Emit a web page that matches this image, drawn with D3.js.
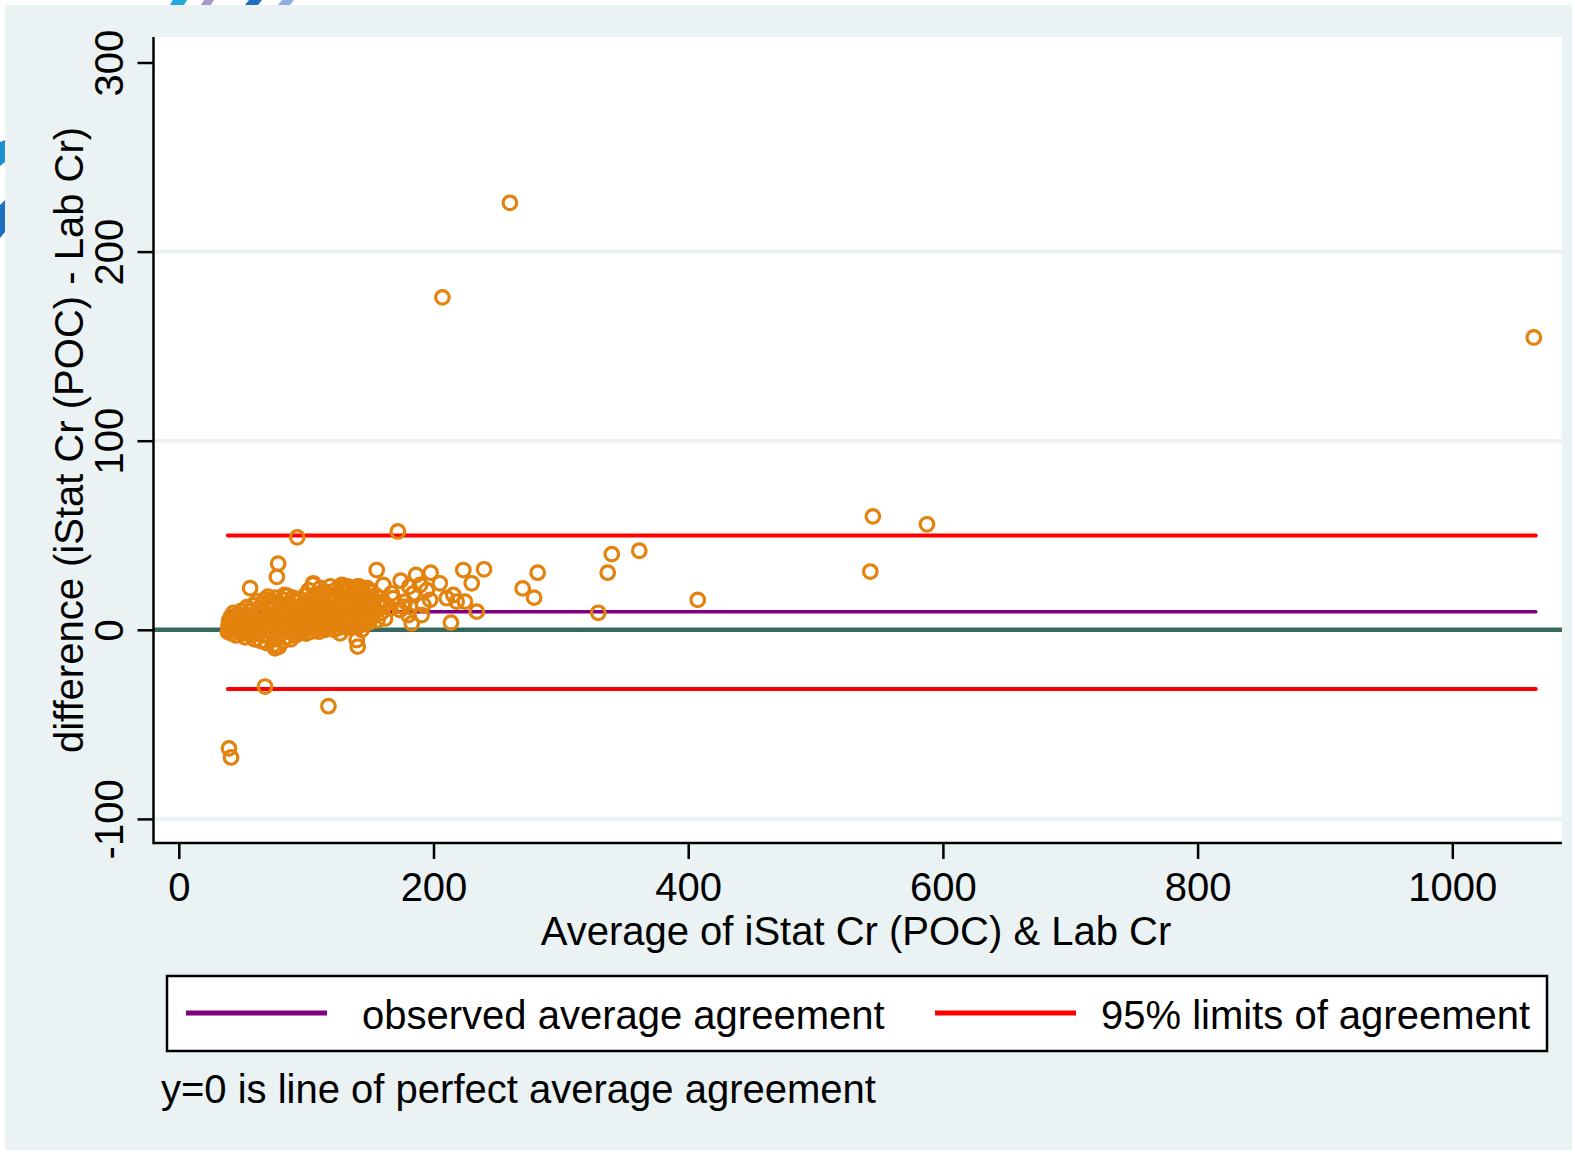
<!DOCTYPE html>
<html>
<head>
<meta charset="utf-8">
<script src="https://cdn.jsdelivr.net/npm/d3@7"></script>
<style>
  body { margin: 0; background: #fff; }
  text { font-family: "Liberation Sans", Arial, Helvetica, sans-serif; fill: #000; }
</style>
</head>
<body>
<svg id="chart" width="1575" height="1154"></svg>
<script>
// Bland-Altman: average of iStat Cr (POC) & Lab Cr vs difference
// [average, difference]
const points = [
  // dense cluster
  [38.5,-1],[39,2],[39.5,5],[40,0],[40.5,3],[41,7],[41.5,-2],[42,1],[42.5,4],[43,9],[43.5,0],[44,2],[44.5,6],[45,-3],
  [45.5,1],[46,3],[46.5,8],[47,-1],[47.5,5],[48,2],[48.5,0],[49,10],[49.5,4],[50,-2],[50.5,6],[51,1],[51.5,3],[52,-4],
  [52.5,8],[53,0],[53.5,12],[54,5],[54.5,2],[55,-1],[55.5,7],[56,3],[56.5,10],[57,-3],[57.5,1],[58,6],[58.5,13],[59,4],
  [59.5,-5],[60,2],[60.5,9],[61,0],[61.5,15],[62,5],[62.5,-2],[63,11],[63.5,3],[64,7],[64.5,-6],[65,1],[65.5,14],[66,4],
  [66.5,-3],[67,9],[67.5,16],[68,2],[68.5,6],[69,-7],[69.5,12],[70,0],[70.5,4],[71,15],[71.5,-4],[72,8],[72.5,2],[73,11],
  [73.5,-1],[74,6],[74.5,-8],[75,13],[75.5,3],[76,17],[76.5,-5],[77,9],[77.5,1],[78,5],[78.5,-9],[79,14],[79.5,7],[80,-2],
  [80.5,11],[81,3],[81.5,16],[82,-6],[82.5,8],[83,0],[83.5,12],[84,5],[84.5,-4],[85,18],[85.5,9],[86,2],[86.5,-1],[87,14],
  [87.5,6],[88,-5],[88.5,10],[89,3],[89.5,17],[90,0],[90.5,7],[91,12],[91.5,-3],[92,4],[92.5,15],[93,9],[93.5,1],[94,-2],
  [94.5,11],[95,6],[95.5,16],[96,3],[96.5,-1],[97,8],[97.5,13],[98,0],[98.5,5],[99,18],[99.5,10],[100,-2],[100.5,3],
  [101,14],[101.5,7],[102,21],[102.5,1],[103,11],[103.5,-1],[104,5],[104.5,17],[105,9],[105.5,24],[106,2],[106.5,13],
  [107,6],[107.5,0],[108,19],[108.5,10],[109,3],[109.5,15],[110,-1],[110.5,7],[111,22],[111.5,12],[112,4],[112.5,1],
  [113,17],[113.5,9],[114,5],[114.5,14],[115,0],[115.5,20],[116,8],[116.5,3],[117,12],[117.5,16],[118,1],[118.5,6],
  [119,23],[119.5,10],[120,2],[120.5,14],[121,18],[121.5,5],[122,0],[122.5,9],[123,21],[123.5,12],[124,3],[124.5,16],
  [125,7],[125.5,1],[126,19],[126.5,11],[127,4],[127.5,22],[128,14],[128.5,8],[129,2],[129.5,17],[130,10],[130.5,5],
  [131,20],[131.5,13],[132,1],[132.5,23],[133,8],[133.5,16],[134,4],[134.5,11],[135,19],[135.5,6],[136,14],[136.5,2],
  [137,22],[137.5,9],[138,17],[138.5,4],[139,12],[139.5,20],[140,7],[140.5,15],[141,2],[141.5,23],[142,10],[142.5,18],
  [143,5],[143.5,13],[144,21],[144.5,8],[145,16],[145.5,3],[146,11],[146.5,19],[147,6],[147.5,14],[148,22],[148.5,9],
  [149,17],[149.5,4],[150,12],[151,20],[152,7],[153,15],[154,10],[155,18],[156,5],[157,13],[159,9],[161,12],[162,6],
  // looser area
  [56,22],[70,17.5],[78,35],[77,28],[83,18.4],[93,48.9],[105.6,24.6],[128,23.7],[140,22.8],[126.6,-1.9],
  [139.7,-5.4],[140.5,-8.9],[143.6,0],[145,14],[150,21],[155.4,31.6],[158,14],[160.6,23.7],[160.6,14.9],
  [165.8,11.4],[167.2,19.3],[168.4,16.7],[172,52],[173.7,10.5],[174.2,26],[176.3,12.2],[177.6,14.9],[180.2,7.8],
  [181,22.8],[181.5,12.2],[182.9,3.4],[184.2,19.3],[186.3,29],[189.4,23.7],[190.7,7.8],[192,13.1],[194.7,21],
  [197.3,15.8],[197.8,30.2],[205,24.6],[210.4,16.7],[213.7,3.8],[215.6,18.4],[218.2,14.9],[223.4,31.6],
  [224.7,14.9],[230,24.6],[234,9.6],[239.7,32],
  // spread out
  [207,175.8],[260,225.8],[270,21.9],[279,17],[281.8,30.2],[329.4,9],[336.8,30.2],[340,40],[361.6,41.8],
  [407.5,15.8],[543,30.8],[545,60],[587.5,55.8],[1064,154.6],
  // below
  [67.7,-30],[75.5,-9.8],[117.5,-40.4],[39.4,-62.7],[41,-67.5]
];
const meanDiff = 9.6;
const limits = [49.9, -31.3];
const xTicks = [0, 200, 400, 600, 800, 1000];
const yTicks = [-100, 0, 100, 200, 300];
const yGrid = [-100, 100, 200];
const legendLabels = ["observed average agreement", "95% limits of agreement"];
const xTitle = "Average of iStat Cr (POC) & Lab Cr";
const yTitle = "difference (iStat Cr (POC) - Lab Cr)";
const note = "y=0 is line of perfect average agreement";

const svg = d3.select("#chart");
const plot = { left: 153.5, right: 1562, top: 37, bottom: 843 };

const x = d3.scaleLinear().domain([0, 1000]).range([178.8, 1452.3]);
const y = d3.scaleLinear().domain([0, 300]).range([629.8, 62.5]);

// backgrounds
svg.append("rect").attr("x", 5).attr("y", 5).attr("width", 1567).attr("height", 1145).attr("fill", "#eaf2f3");
svg.append("rect").attr("x", plot.left).attr("y", plot.top)
  .attr("width", plot.right - plot.left).attr("height", plot.bottom - plot.top).attr("fill", "#fff");

// leftover bits of the slide this was cut from
const bits = [
  ["#23a9dc", "173,0 187,0 184,5 170,5"], ["#a99bc9", "204,0 214,0 211,5 201,5"],
  ["#1f6fbf", "249,0 262,0 258,5 245,5"], ["#90aee0", "282,0 294,0 290,5 278,5"],
  ["#1c8fd0", "0,142 5,140 5,162 0,166"], ["#1f6fbf", "0,205 5,200 5,232 0,238"]
];
svg.selectAll("polygon.bit").data(bits).enter().append("polygon")
  .attr("class", "bit").attr("fill", d => d[0]).attr("points", d => d[1]);

// gridlines
svg.selectAll("line.grid").data(yGrid).enter().append("line")
  .attr("class", "grid")
  .attr("x1", plot.left).attr("x2", plot.right)
  .attr("y1", d => y(d)).attr("y2", d => y(d))
  .attr("stroke", "#eaf2f3").attr("stroke-width", 4);

// y=0
svg.append("line").attr("x1", plot.left).attr("x2", plot.right)
  .attr("y1", y(0)).attr("y2", y(0)).attr("stroke", "#35695f").attr("stroke-width", 4.5);

const xr = d3.extent(points, d => d[0]);

// mean and limits
svg.append("line").attr("x1", x(xr[0])).attr("x2", x(xr[1]) + 2)
  .attr("y1", y(meanDiff)).attr("y2", y(meanDiff))
  .attr("stroke", "#800080").attr("stroke-width", 3.5).attr("stroke-linecap", "round");
svg.selectAll("line.loa").data(limits).enter().append("line")
  .attr("class", "loa")
  .attr("x1", x(xr[0])).attr("x2", x(xr[1]) + 2)
  .attr("y1", d => y(d)).attr("y2", d => y(d))
  .attr("stroke", "#ff0000").attr("stroke-width", 4).attr("stroke-linecap", "round");

// points
svg.append("g").selectAll("circle").data(points).enter().append("circle")
  .attr("cx", d => x(d[0])).attr("cy", d => y(d[1])).attr("r", 6.8)
  .attr("fill", "none").attr("stroke", "#e3820c").attr("stroke-width", 3.2);

// axes
const fmt = d => String(d);
const gx = svg.append("g").attr("transform", `translate(0,${plot.bottom})`)
  .call(d3.axisBottom(x).tickValues(xTicks).tickSize(16).tickPadding(13.6).tickFormat(fmt));
gx.select(".domain").remove();
gx.selectAll(".tick line").attr("stroke", "#000").attr("stroke-width", 2.5);
gx.selectAll(".tick text").attr("font-size", 40).attr("font-family", null);

const gy = svg.append("g").attr("transform", `translate(${plot.left},0)`)
  .call(d3.axisLeft(y).tickValues(yTicks).tickSize(16).tickFormat(fmt));
gy.select(".domain").remove();
gy.selectAll(".tick line").attr("stroke", "#000").attr("stroke-width", 2.5);
gy.selectAll(".tick text").attr("font-size", 40).attr("font-family", null)
  .attr("x", null).attr("dy", null).attr("text-anchor", "middle")
  .attr("transform", "translate(-30.5,0) rotate(-90)");

svg.append("line").attr("x1", plot.left).attr("x2", plot.left)
  .attr("y1", plot.top).attr("y2", plot.bottom + 1.2).attr("stroke", "#000").attr("stroke-width", 2.5);
svg.append("line").attr("x1", plot.left).attr("x2", plot.right)
  .attr("y1", plot.bottom).attr("y2", plot.bottom).attr("stroke", "#000").attr("stroke-width", 2.5);

// titles
svg.append("text").attr("x", 856).attr("y", 945).attr("text-anchor", "middle")
  .attr("font-size", 40).text(xTitle);
svg.append("text").attr("transform", "translate(83,440) rotate(-90)").attr("text-anchor", "middle")
  .attr("font-size", 40).text(yTitle);

// legend
svg.append("rect").attr("x", 167).attr("y", 976).attr("width", 1380).attr("height", 75)
  .attr("fill", "#fff").attr("stroke", "#000").attr("stroke-width", 2.5);
const legendColors = ["#800080", "#ff0000"];
const legendX = [186, 935];
const lg = svg.selectAll("g.leg").data(legendLabels).enter().append("g")
  .attr("class", "leg").attr("transform", (d, i) => `translate(${legendX[i]},0)`);
lg.append("line").attr("x1", 0).attr("x2", 141).attr("y1", 1013).attr("y2", 1013)
  .attr("stroke", (d, i) => legendColors[i]).attr("stroke-width", 5);
lg.append("text").attr("x", (d, i) => i === 0 ? 176 : 166).attr("y", 1029)
  .attr("font-size", 40).text(d => d);

// note
svg.append("text").attr("x", 161).attr("y", 1103).attr("font-size", 40).text(note);
</script>
</body>
</html>
